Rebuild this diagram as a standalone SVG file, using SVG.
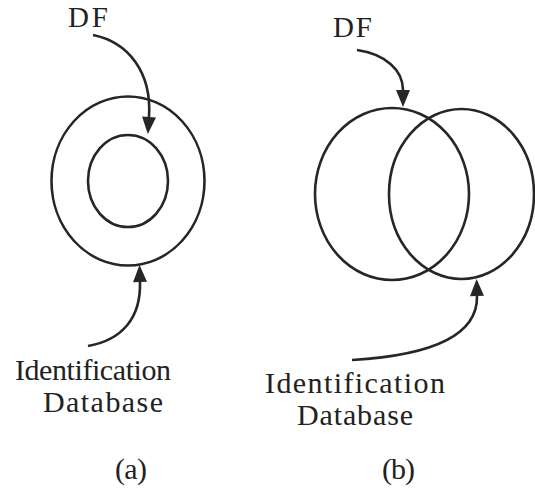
<svg xmlns="http://www.w3.org/2000/svg" width="535" height="494" viewBox="0 0 535 494">
  <style>
    .ring { fill: none; stroke: #262626; stroke-width: 2.6; }
    .link { fill: none; stroke: #262626; stroke-width: 2.6; }
    .lbl { font-family: "Liberation Serif", "Times New Roman", serif; font-size: 30px; fill: #222222; }
    .big { font-size: 29px; }
  </style>
  <defs>
    <marker id="head" markerUnits="userSpaceOnUse" markerWidth="18" markerHeight="16" refX="0" refY="7" orient="auto" overflow="visible">
      <path d="M0,0 L17,7 L0,14 z" fill="#262626"/>
    </marker>
  </defs>
  <rect width="535" height="494" fill="#ffffff"/>

  <!-- (a) nested sets -->
  <g id="a-identification-db">
    <ellipse class="ring" cx="128" cy="181" rx="76.5" ry="84.5"/>
  </g>
  <g id="a-df">
    <ellipse class="ring" cx="128" cy="181" rx="40" ry="46"/>
  </g>

  <!-- (b) overlapping sets -->
  <g id="b-df">
    <ellipse class="ring" cx="392" cy="194" rx="77" ry="86"/>
  </g>
  <g id="b-identification-db">
    <ellipse class="ring" cx="461.5" cy="194" rx="72.5" ry="85"/>
  </g>

  <!-- pointers from labels to sets -->
  <g id="connectors">
    <path class="link" d="M93,35 C128,42 152,72 149,117" marker-end="url(#head)"/>
    <path class="link" d="M88,346 C122,340 141,318 140,282" marker-end="url(#head)"/>
    <path class="link" d="M357,50 C385,54 403,70 403,90" marker-end="url(#head)"/>
    <path class="link" d="M352,360 C420,356 478,340 477,296" marker-end="url(#head)"/>
  </g>

  <!-- labels -->
  <g id="labels-a">
    <text class="lbl big" x="68" y="27" textLength="40">DF</text>
    <text class="lbl" x="15" y="380" textLength="156">Identification</text>
    <text class="lbl" x="43" y="412" textLength="120">Database</text>
    <text class="lbl" x="115" y="479" textLength="32">(a)</text>
  </g>
  <g id="labels-b">
    <text class="lbl big" x="333" y="37" textLength="39">DF</text>
    <text class="lbl" x="265" y="393" textLength="180">Identification</text>
    <text class="lbl" x="297" y="425" textLength="116">Database</text>
    <text class="lbl" x="382" y="479" textLength="33">(b)</text>
  </g>
</svg>
